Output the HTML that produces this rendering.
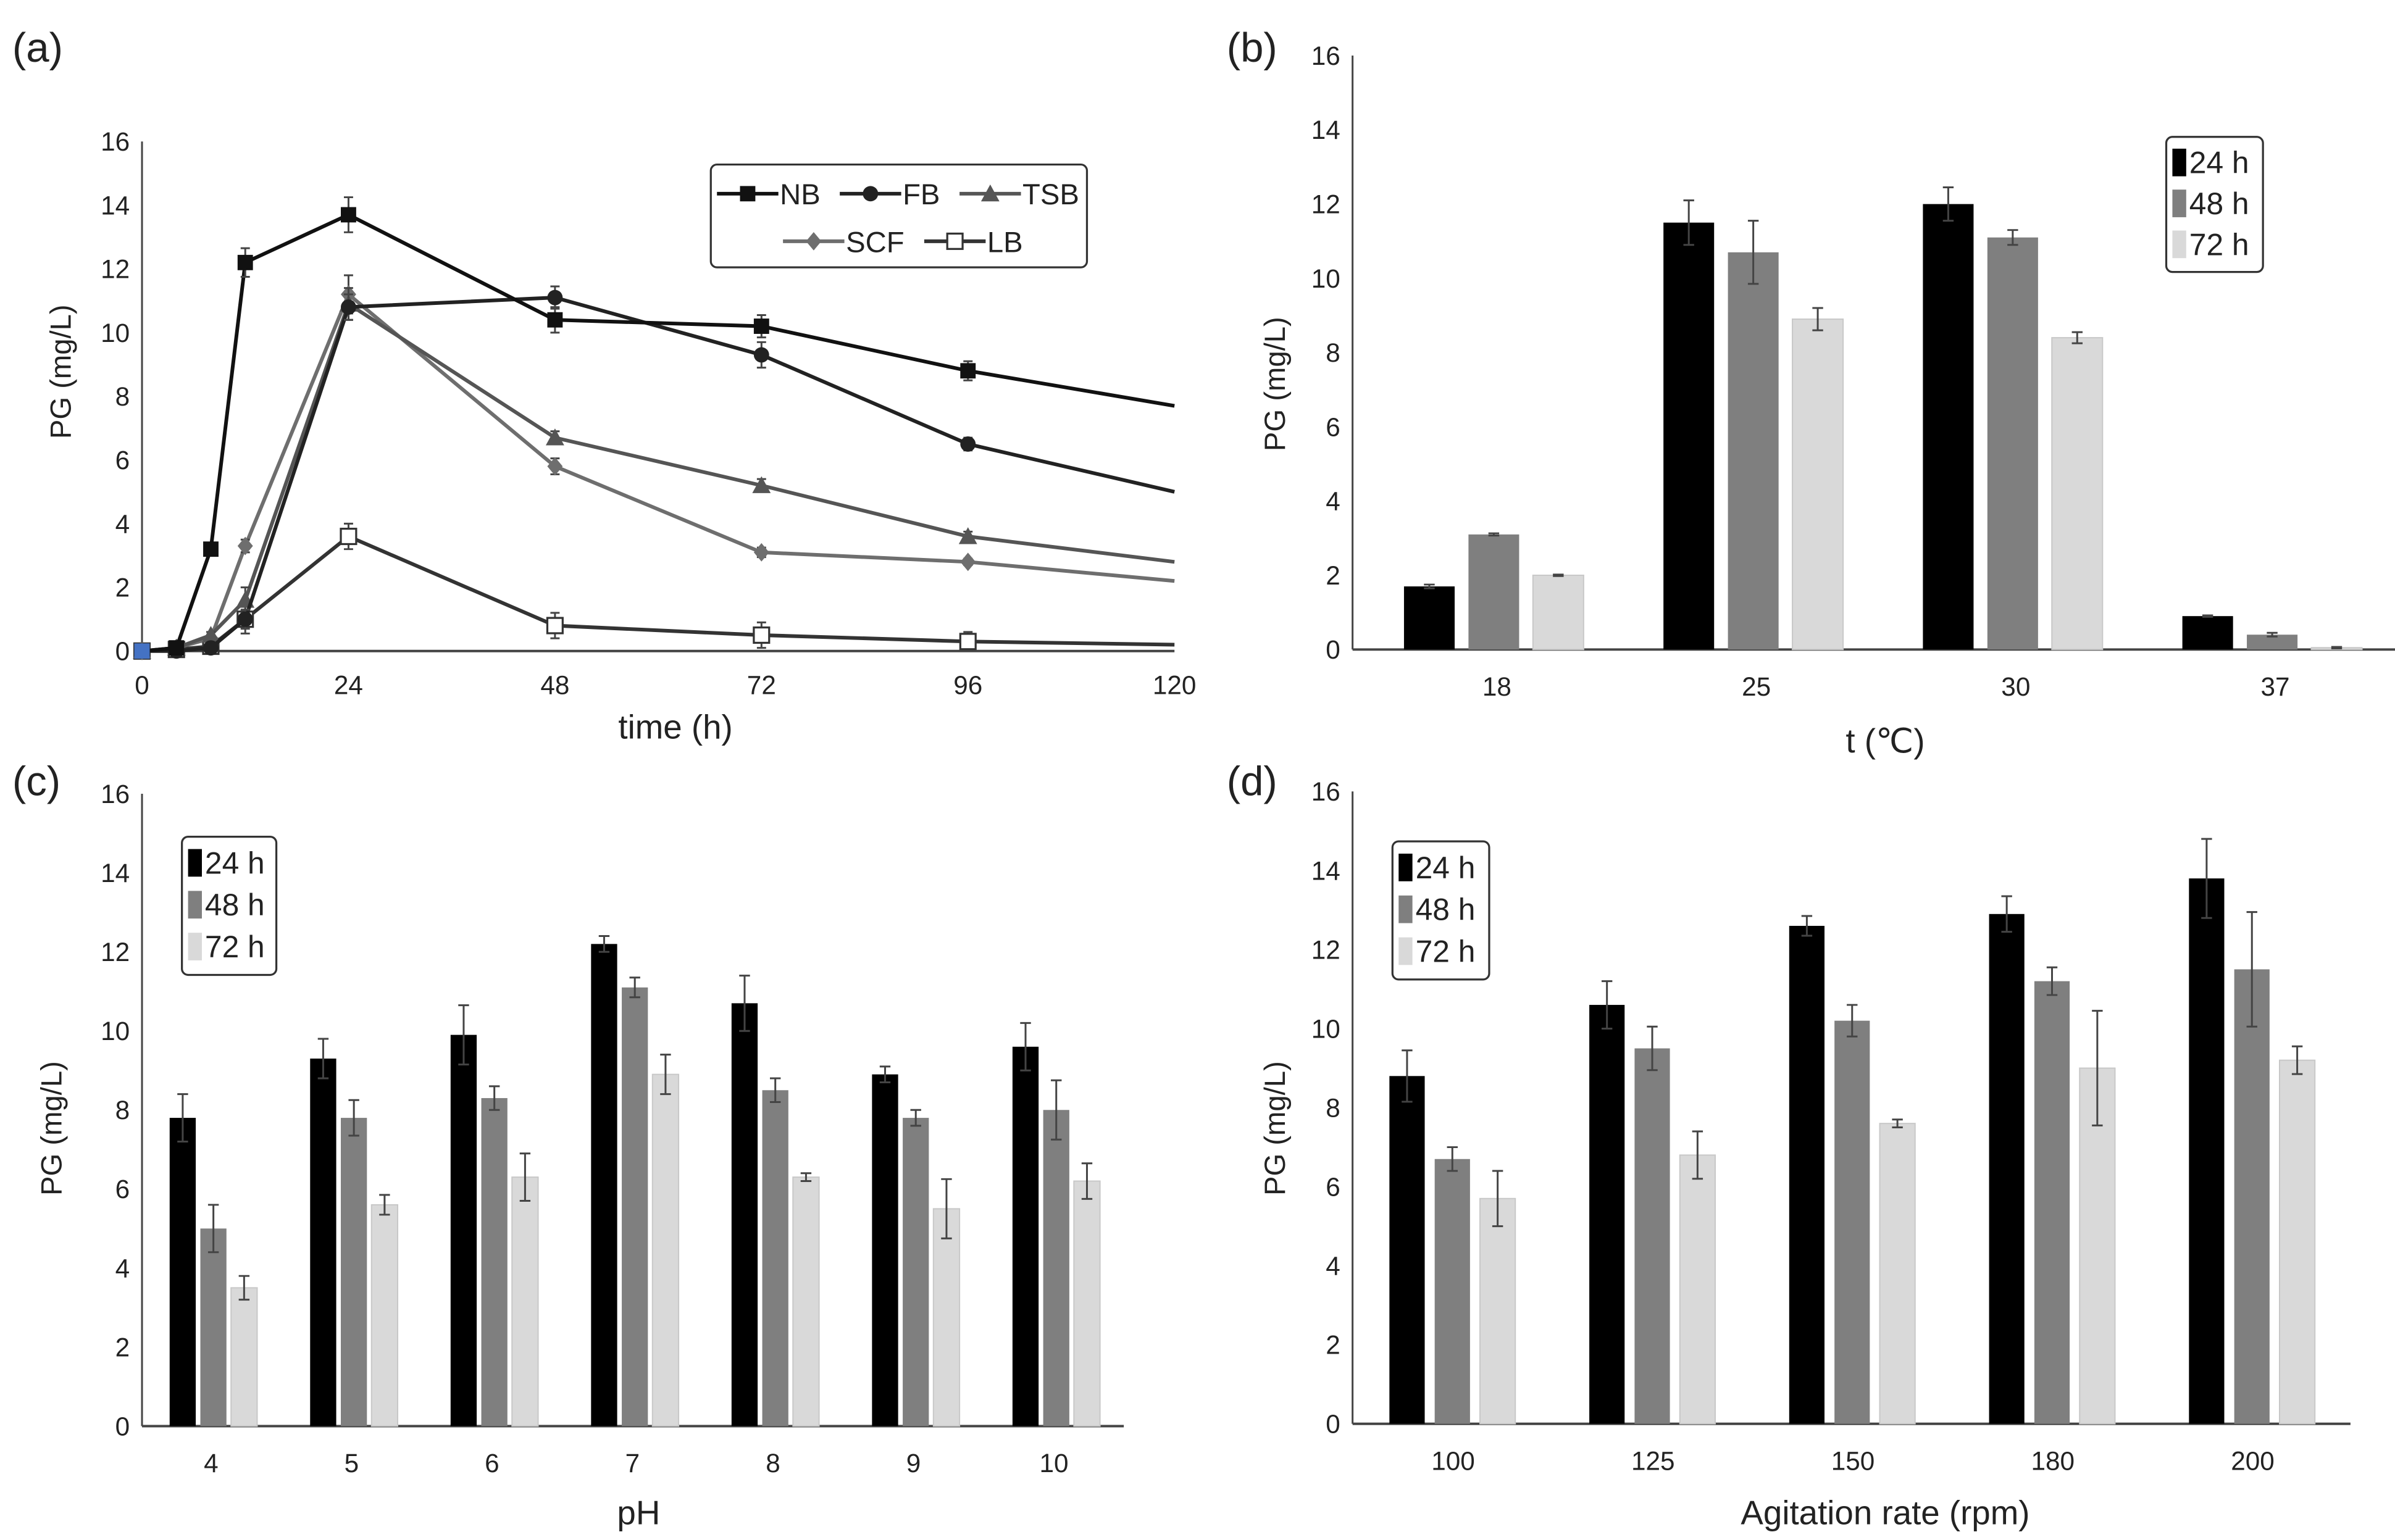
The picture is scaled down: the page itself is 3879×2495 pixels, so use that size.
<!DOCTYPE html>
<html><head><meta charset="utf-8"><style>
html,body{margin:0;padding:0;background:#fff;}
svg{display:block;font-family:"Liberation Sans",sans-serif;}
.n{font-family:"Liberation Sans Narrow","Liberation Sans",sans-serif;}
</style></head><body>
<svg id="fig" width="3879" height="2495" viewBox="0 0 1560 1003" xmlns="http://www.w3.org/2000/svg"></svg>
<script>
// Panel (a) data
const aTimes=[0,4,8,12,24,48,72,96,120];
const aNames=["NB","FB","TSB","SCF","LB"];
const aNB=[0,0.1,3.2,12.2,13.7,10.4,10.2,8.8,7.7];
const aFB=[0,0,0.1,1.0,10.8,11.1,9.3,6.5,5.0];
const aTSB=[0,0.1,0.5,1.6,10.9,6.7,5.2,3.6,2.8];
const aSCF=[0,0.1,0.4,3.3,11.2,5.8,3.1,2.8,2.2];
const aLB=[0,0.05,0.15,1.0,3.6,0.8,0.5,0.3,0.2];
const aErrNB=[0,0.1,0.2,0.45,0.55,0.4,0.35,0.3,0];
const aErrFB=[0,0,0.1,0.3,0.4,0.35,0.4,0.2,0];
const aErrTSB=[0,0.1,0.1,0.4,0.5,0.2,0.2,0.15,0];
const aErrSCF=[0,0.1,0.1,0.2,0.6,0.25,0.15,0.1,0];
const aErrLB=[0,0.1,0.1,0.45,0.4,0.4,0.4,0.3,0];
const aXTicks=[0,24,48,72,96,120];
const yTicks=[0,2,4,6,8,10,12,14,16];
// Panel (b)
const bCats=["18","25","30","37"];
const b24=[1.7,11.5,12.0,0.9],b48=[3.1,10.7,11.1,0.4],b72=[2.0,8.9,8.4,0.05];
const bE24=[0.05,0.6,0.45,0.02],bE48=[0.03,0.85,0.2,0.05],bE72=[0.02,0.3,0.15,0.02];
// Panel (c)
const cCats=["4","5","6","7","8","9","10"];
const c24=[7.8,9.3,9.9,12.2,10.7,8.9,9.6],c48=[5.0,7.8,8.3,11.1,8.5,7.8,8.0],c72=[3.5,5.6,6.3,8.9,6.3,5.5,6.2];
const cE24=[0.6,0.5,0.75,0.2,0.7,0.2,0.6],cE48=[0.6,0.45,0.3,0.25,0.3,0.2,0.75],cE72=[0.3,0.25,0.6,0.5,0.1,0.75,0.45];
// Panel (d)
const dCats=["100","125","150","180","200"];
const d24=[8.8,10.6,12.6,12.9,13.8],d48=[6.7,9.5,10.2,11.2,11.5],d72=[5.7,6.8,7.6,9.0,9.2];
const dE24=[0.65,0.6,0.25,0.45,1.0],dE48=[0.3,0.55,0.4,0.35,1.45],dE72=[0.7,0.6,0.1,1.45,0.35];

const NS="http://www.w3.org/2000/svg";
const svg=document.getElementById('fig');
function mk(tag,attrs,parent,text){const e=document.createElementNS(NS,tag);for(const k in attrs)e.setAttribute(k,attrs[k]);if(text!==undefined)e.textContent=text;(parent||svg).appendChild(e);return e;}

function axes(g,x0,x1,y0,y16,name){
  const ys=v=>y0-v*(y0-y16)/16;
  const ya=mk('line',{x1:x0,y1:y16,x2:x0,y2:y0,stroke:'#444','stroke-width':1.2},g);
  
  
  const xa=mk('line',{x1:x0,y1:y0,x2:x1,y2:y0,stroke:'#444','stroke-width':1.6},g);
  
  
  yTicks.forEach(v=>{
    const t=mk('text',{x:x0-8,y:ys(v)+6,'font-size':17,'text-anchor':'end',fill:'#222',class:'n'},g,String(v));
    
    
  });
  return ys;
}
function ytitle(g,x,y,name){
  const t=mk('text',{x:x,y:y,'font-size':19,'text-anchor':'middle',fill:'#222',transform:`rotate(-90 ${x} ${y})`},g,'PG (mg/L)');
  
  
}
function label(x,y,s,size,name,anchor){
  const t=mk('text',{x:x,y:y,'font-size':size,fill:'#222','text-anchor':anchor||'start'},svg,s);
  
  
  return t;
}
function errbar(g,x,ytop,ybot,cap,name){
  const e=mk('path',{d:`M${x},${ytop}V${ybot}M${x-cap},${ytop}H${x+cap}M${x-cap},${ybot}H${x+cap}`,stroke:'#444','stroke-width':1.2,fill:'none'},g);
  
  
}
function marker(g,mt,cx,cy,col){
  if(mt==='sq')return mk('rect',{x:cx-5,y:cy-5,width:10,height:10,fill:col},g);
  if(mt==='osq')return mk('rect',{x:cx-5,y:cy-5,width:10,height:10,fill:'#fff',stroke:'#333','stroke-width':1.3},g);
  if(mt==='ci')return mk('circle',{cx:cx,cy:cy,r:5,fill:col},g);
  if(mt==='tr')return mk('path',{d:`M${cx},${cy-6}L${cx+6},${cy+5}L${cx-6},${cy+5}Z`,fill:col},g);
  return mk('path',{d:`M${cx},${cy-6}L${cx+5},${cy}L${cx},${cy+6}L${cx-5},${cy}Z`,fill:col},g);
}

// ---------- Panel (a) ----------
{
  const g=mk('g',{});
  
  
  const x0=92.5,x1=765,y0=424,y16=92;
  const xs=t=>x0+t*(x1-x0)/120;
  const ys=axes(g,x0,x1,y0,y16,'panel-a');
  aXTicks.forEach(t=>{
    const l=mk('text',{x:xs(t),y:y0+28,'font-size':17,'text-anchor':'middle',fill:'#222',class:'n'},g,String(t));
    
    
  });
  ytitle(g,46,242,'panel-a');
  const series=[aNB,aFB,aTSB,aSCF,aLB];
  const errs=[aErrNB,aErrFB,aErrTSB,aErrSCF,aErrLB];
  const cols=['#111','#222','#555','#6e6e6e','#333'];
  const marks=['sq','ci','tr','di','osq'];
  [4,3,2,1,0].forEach(si=>{
    const vals=series[si];
    const sg=mk('g',{},g);
    
    
    const pts=aTimes.map((t,i)=>xs(t)+','+ys(vals[i])).join(' ');
    const pl=mk('polyline',{points:pts,fill:'none',stroke:cols[si],'stroke-width':2.4},sg);
    
    
    aTimes.forEach((t,i)=>{
      if(t>=120)return;
      const cx=xs(t),cy=ys(vals[i]);
      if(errs[si][i]>0) errbar(sg,cx,ys(vals[i]+errs[si][i]),ys(vals[i]-errs[si][i]),3,'error-bar');
      const m=marker(sg,marks[si],cx,cy,cols[si]);
      
      
    });
  });
  const b0=mk('rect',{x:x0-5,y:y0-5,width:10,height:10,fill:'#4472c4'},g);
  
  
  const xt=mk('text',{x:440,y:481,'font-size':22,'text-anchor':'middle',fill:'#222',class:'n'},g,'time (h)');
  
  
  const lg=mk('g',{},g);
  
  
  mk('rect',{x:463,y:107,width:245,height:67,rx:4,fill:'#fff',stroke:'#333','stroke-width':1.3},lg);
  const ent=[[0,467,126],[1,547,126],[2,625,126],[3,510,157],[4,602,157]];
  ent.forEach(([si,x,y])=>{
    const e=mk('g',{},lg);
    
    
    mk('line',{x1:x,y1:y,x2:x+40,y2:y,stroke:cols[si],'stroke-width':2.4},e);
    marker(e,marks[si],x+20,y,cols[si]);
    mk('text',{x:x+41,y:y+7,'font-size':19,fill:'#222',class:'n'},e,aNames[si]);
  });
}

// ---------- Bar panels ----------
function barPanel(id,cats,s24,s48,s72,e24,e48,e72,o){
  const g=mk('g',{});
  
  
  const ys=axes(g,o.x0,o.x1,o.y0,o.y16,'panel-'+id);
  ytitle(g,o.yt[0],o.yt[1],'panel-'+id);
  const cols=['#000','#7f7f7f','#d9d9d9'];
  const S=[s24,s48,s72],E=[e24,e48,e72],nm=['24h','48h','72h'];
  cats.forEach((c,i)=>{
    const cx=o.first+i*o.pitch;
    S.forEach((s,k)=>{
      const bx=cx+(k-1)*o.bp;
      const r=mk('rect',{x:bx-o.bw/2,y:ys(s[i]),width:o.bw,height:o.y0-ys(s[i]),fill:cols[k],stroke:k===2?'#c8c8c8':'none','stroke-width':0.8},g);
      
      
      errbar(g,bx,ys(s[i]+E[k][i]),ys(s[i]-E[k][i]),3.5,'error-bar');
    });
    const t=mk('text',{x:cx+o.lo,y:o.y0+30,'font-size':17,'text-anchor':'middle',fill:'#222',class:'n'},g,c);
    
    
  });
  const xt=mk('text',{x:o.xt[0],y:o.xt[1],'font-size':22,'text-anchor':'middle',fill:'#222',class:'n'},g,o.xtitle);
  
  
  const lg=mk('g',{},g);
  
  
  const [lx,ly,lw,lh]=o.leg;
  mk('rect',{x:lx,y:ly,width:lw,height:lh,rx:4,fill:'#fff',stroke:'#333','stroke-width':1.3},lg);
  ['24 h','48 h','72 h'].forEach((s,k)=>{
    const e=mk('g',{},lg);
    
    
    const yy=ly+lh/6+k*lh/3.3+2;
    mk('rect',{x:lx+4,y:yy-9,width:9,height:18,fill:cols[k]},e);
    mk('text',{x:lx+15,y:yy+7,'font-size':20,fill:'#222',class:'n'},e,s);
  });
}
barPanel('b',bCats,b24,b48,b72,bE24,bE48,bE72,{x0:881,x1:1560,y0:423,y16:36,first:973,pitch:169,bw:33,bp:42,lo:2,yt:[837,250],xt:[1228,490],xtitle:'t (\u2103)',leg:[1411,89,63,88]});
barPanel('c',cCats,c24,c48,c72,cE24,cE48,cE72,{x0:92.5,x1:732,y0:929,y16:517,first:139,pitch:91.5,bw:17,bp:20,lo:-1.5,yt:[40,735],xt:[416,993],xtitle:'pH',leg:[118.5,545,61.5,90]});
barPanel('d',dCats,d24,d48,d72,dE24,dE48,dE72,{x0:881,x1:1531,y0:927.5,y16:515.5,first:946,pitch:130.2,bw:23,bp:29.5,lo:0.5,yt:[837,735],xt:[1228,993],xtitle:'Agitation rate (rpm)',leg:[907,548,63,90]});

label(8,40,'(a)',27,'panel-a-label');
label(799,40,'(b)',27,'panel-b-label');
label(8,518,'(c)',27,'panel-c-label');
label(799,518,'(d)',27,'panel-d-label');
</script>
</body></html>
